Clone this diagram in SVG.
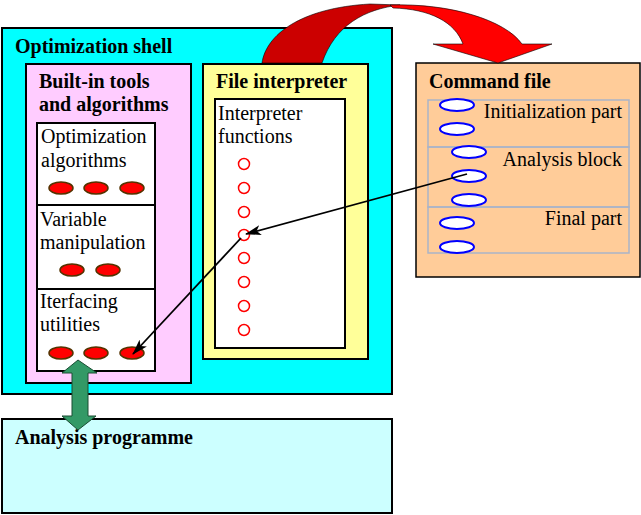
<svg xmlns="http://www.w3.org/2000/svg" width="641" height="515" viewBox="0 0 641 515">
<defs>
<style>
.b{font-family:"Liberation Serif","Times New Roman",serif;font-size:20px;font-weight:bold;fill:#000}
.r{font-family:"Liberation Serif","Times New Roman",serif;font-size:20px;fill:#000}
.box{stroke:#000;stroke-width:2}
.re{fill:#FF0000;stroke:#553300;stroke-width:1.5}
.rc{fill:#fff;stroke:#FF0000;stroke-width:1.5}
.be{fill:#fff;stroke:#0000FF;stroke-width:2}
.sec{fill:none;stroke:#AAB4C8;stroke-width:1.5}
.con{stroke:#000;stroke-width:1.8;fill:none}
</style>
<marker id="ah" viewBox="0 0 16 10" refX="15" refY="5" markerWidth="16" markerHeight="10" markerUnits="userSpaceOnUse" orient="auto">
<path d="M0,0 L16,5 L0,10 L4,5 Z" fill="#000"/>
</marker>
</defs>
<rect width="641" height="515" fill="#fff"/>

<g id="analysis-programme">
<rect class="box" x="2" y="419" width="390" height="94" fill="#CCFFFF"/>
<text class="b" x="15" y="444">Analysis programme</text>
</g>

<g id="optimization-shell">
<rect class="box" x="2" y="28" width="390" height="366" fill="#00FFFF"/>
<text class="b" x="15" y="53">Optimization shell</text>
</g>

<g id="built-in-tools">
<rect class="box" x="26" y="64" width="165" height="319" fill="#FFCCFF"/>
<text class="b" x="39" y="88">Built-in tools</text>
<text class="b" x="39" y="111">and algorithms</text>
</g>

<g id="optimization-algorithms">
<rect class="box" x="37" y="123" width="118" height="82" fill="#fff"/>
<text class="r" x="41" y="143">Optimization</text>
<text class="r" x="41" y="167">algorithms</text>
<ellipse class="re" cx="61" cy="188" rx="12" ry="6"/>
<ellipse class="re" cx="96" cy="188" rx="12" ry="6"/>
<ellipse class="re" cx="132" cy="188" rx="12" ry="6"/>
</g>

<g id="variable-manipulation">
<rect class="box" x="37" y="205" width="118" height="84" fill="#fff"/>
<text class="r" x="40" y="226">Variable</text>
<text class="r" x="40" y="249">manipulation</text>
<ellipse class="re" cx="72" cy="270" rx="12" ry="6"/>
<ellipse class="re" cx="108" cy="270" rx="12" ry="6"/>
</g>

<g id="interfacing-utilities">
<rect class="box" x="37" y="289" width="118" height="82" fill="#fff"/>
<text class="r" x="40" y="308">Iterfacing</text>
<text class="r" x="40" y="331">utilities</text>
<ellipse class="re" cx="61" cy="353" rx="12" ry="6"/>
<ellipse class="re" cx="96" cy="353" rx="12" ry="6"/>
<ellipse class="re" cx="132" cy="353" rx="12" ry="6"/>
</g>

<g id="file-interpreter">
<rect class="box" x="203" y="64" width="165" height="295" fill="#FFFF99"/>
<text class="b" x="216" y="88">File interpreter</text>
</g>

<g id="interpreter-functions">
<rect class="box" x="215" y="99" width="130" height="249" fill="#fff"/>
<text class="r" x="218" y="120">Interpreter</text>
<text class="r" x="218" y="143">functions</text>
<circle class="rc" cx="244" cy="164" r="5.5"/>
<circle class="rc" cx="244" cy="188" r="5.5"/>
<circle class="rc" cx="244" cy="212" r="5.5"/>
<circle class="rc" cx="244" cy="235" r="5.5"/>
<circle class="rc" cx="244" cy="258" r="5.5"/>
<circle class="rc" cx="244" cy="282" r="5.5"/>
<circle class="rc" cx="244" cy="306" r="5.5"/>
<circle class="rc" cx="244" cy="330" r="5.5"/>
</g>

<g id="command-file">
<rect x="416" y="63" width="224" height="214" fill="#FFCC99" stroke="#000" stroke-width="1.5"/>
<text class="b" x="429" y="88">Command file</text>
<rect class="sec" x="428" y="100" width="201" height="47"/>
<rect class="sec" x="428" y="147" width="201" height="60"/>
<rect class="sec" x="428" y="207" width="201" height="46"/>
<text class="r" x="622" y="118" text-anchor="end">Initialization part</text>
<text class="r" x="622" y="166" text-anchor="end">Analysis block</text>
<text class="r" x="622" y="225" text-anchor="end">Final part</text>
<ellipse class="be" cx="457" cy="105" rx="17" ry="6"/>
<ellipse class="be" cx="457" cy="129" rx="17" ry="6"/>
<ellipse class="be" cx="469" cy="152" rx="17" ry="6"/>
<ellipse class="be" cx="469" cy="176" rx="17" ry="6"/>
<ellipse class="be" cx="469" cy="200" rx="17" ry="6"/>
<ellipse class="be" cx="457" cy="223" rx="17" ry="6"/>
<ellipse class="be" cx="457" cy="247" rx="17" ry="6"/>
</g>

<g id="connectors">
<path d="M262,63 C266,35 300,8 370,4 L400,5 C365,9 335,25 322,63 Z" fill="#CC0000" stroke="#000" stroke-width="0.6"/>
<path d="M390,5 C450,3 505,20 522,44 L552,44 L498,63 L433,44 L463,44 C455,22 430,9 393,8 Z" fill="#FF0000" stroke="#000" stroke-width="0.6"/>
<line class="con" x1="467" y1="174" x2="246" y2="234" marker-end="url(#ah)"/>
<line class="con" x1="241" y1="238" x2="133" y2="354" marker-end="url(#ah)"/>
<polygon points="78,360 97,373 88,373 88,416 96,416 78,430 62,416 72,416 72,373 62,373" fill="#339966" stroke="#1a4d33" stroke-width="1"/>
</g>
</svg>
